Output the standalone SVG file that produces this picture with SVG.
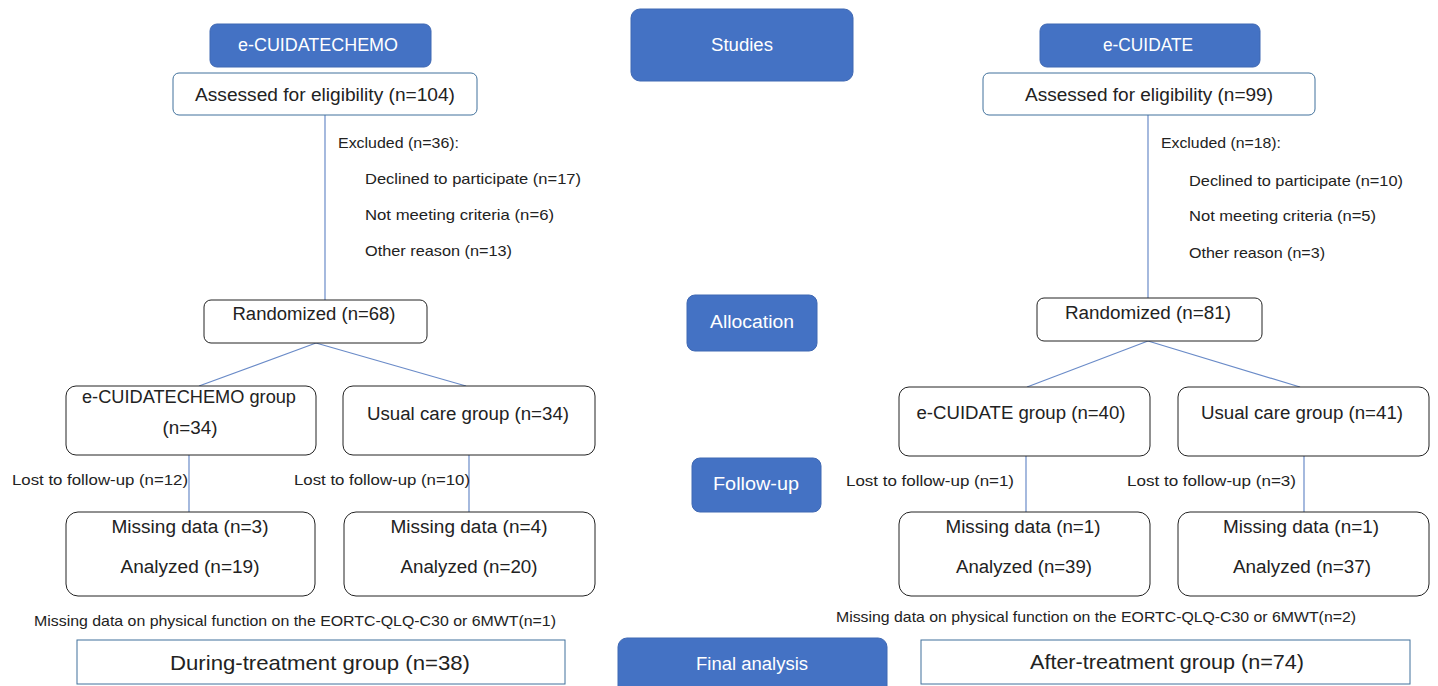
<svg xmlns="http://www.w3.org/2000/svg" width="1438" height="686" viewBox="0 0 1438 686">
<style>
.hdr{fill:#4472C4;stroke:#3F68B3;stroke-width:1}
.ht{fill:#fff;font-family:"Liberation Sans",Arial,sans-serif;font-size:18px;text-anchor:middle}
.box{fill:#fff;stroke:#222;stroke-width:1}
.bbox{fill:#fff;stroke:#41719C;stroke-width:1}
.t{fill:#222;font-family:"Liberation Sans",Arial,sans-serif;font-size:18px;text-anchor:middle}
.s{fill:#222;font-family:"Liberation Sans",Arial,sans-serif;font-size:15px}
.big{fill:#222;font-family:"Liberation Sans",Arial,sans-serif;font-size:21px;text-anchor:middle}
.ln{stroke:#6A8BC8;stroke-width:1.2;fill:none}
</style>
<rect width="1438" height="686" fill="#fff"/>
<g id="connectors">
<line class="ln" x1="325" y1="115" x2="325" y2="300"/>
<line class="ln" x1="1148" y1="115" x2="1148" y2="298"/>
<line class="ln" x1="316" y1="343" x2="199" y2="386"/>
<line class="ln" x1="316" y1="343" x2="466" y2="386"/>
<line class="ln" x1="1148" y1="341" x2="1027" y2="387"/>
<line class="ln" x1="1148" y1="341" x2="1300" y2="387"/>
<line class="ln" x1="189" y1="455" x2="189" y2="512"/>
<line class="ln" x1="469" y1="455" x2="469" y2="512"/>
<line class="ln" x1="1026" y1="456" x2="1026" y2="512"/>
<line class="ln" x1="1304" y1="456" x2="1304" y2="512"/>
</g>
<g id="studies"><rect class="hdr" x="631" y="9" width="222" height="72" rx="9"/><text class="ht" x="742" y="51" textLength="62" lengthAdjust="spacingAndGlyphs">Studies</text></g>
<g id="allocation"><rect class="hdr" x="687" y="295" width="130" height="56" rx="8"/><text class="ht" x="752" y="328" textLength="84" lengthAdjust="spacingAndGlyphs">Allocation</text></g>
<g id="followup"><rect class="hdr" x="692" y="458" width="129" height="54" rx="8"/><text class="ht" x="756" y="490" textLength="86" lengthAdjust="spacingAndGlyphs">Follow-up</text></g>
<g id="final"><rect class="hdr" x="618" y="638" width="269" height="60" rx="9"/><text class="ht" x="752" y="670" textLength="112" lengthAdjust="spacingAndGlyphs">Final analysis</text></g>
<g id="chemo-title"><rect class="hdr" x="210" y="24" width="221" height="43" rx="7"/><text class="ht" x="318" y="51" textLength="160" lengthAdjust="spacingAndGlyphs">e-CUIDATECHEMO</text></g>
<g id="cuidate-title"><rect class="hdr" x="1040" y="24" width="220" height="43" rx="7"/><text class="ht" x="1148" y="51" textLength="90" lengthAdjust="spacingAndGlyphs">e-CUIDATE</text></g>
<g id="assessed-104"><rect class="bbox" x="173" y="73" width="304" height="42" rx="6"/><text class="t" x="325" y="101" textLength="260" lengthAdjust="spacingAndGlyphs">Assessed for eligibility (n=104)</text></g>
<g id="assessed-99"><rect class="bbox" x="983" y="73" width="332" height="42" rx="6"/><text class="t" x="1149" y="101" textLength="248" lengthAdjust="spacingAndGlyphs">Assessed for eligibility (n=99)</text></g>
<g id="excluded-36">
<text class="s" x="338" y="148" textLength="121" lengthAdjust="spacingAndGlyphs">Excluded (n=36):</text>
<text class="s" x="365" y="184" textLength="216" lengthAdjust="spacingAndGlyphs">Declined to participate (n=17)</text>
<text class="s" x="365" y="220" textLength="189" lengthAdjust="spacingAndGlyphs">Not meeting criteria (n=6)</text>
<text class="s" x="365" y="256" textLength="147" lengthAdjust="spacingAndGlyphs">Other reason (n=13)</text>
</g>
<g id="excluded-18">
<text class="s" x="1161" y="148" textLength="120" lengthAdjust="spacingAndGlyphs">Excluded (n=18):</text>
<text class="s" x="1189" y="186" textLength="214" lengthAdjust="spacingAndGlyphs">Declined to participate (n=10)</text>
<text class="s" x="1189" y="221" textLength="187" lengthAdjust="spacingAndGlyphs">Not meeting criteria (n=5)</text>
<text class="s" x="1189" y="258" textLength="136" lengthAdjust="spacingAndGlyphs">Other reason (n=3)</text>
</g>
<g id="rand-68"><rect class="box" x="204" y="300" width="223" height="43" rx="7"/><text class="t" x="314" y="320" textLength="163" lengthAdjust="spacingAndGlyphs">Randomized (n=68)</text></g>
<g id="rand-81"><rect class="box" x="1037" y="298" width="225" height="43" rx="7"/><text class="t" x="1148" y="319" textLength="166" lengthAdjust="spacingAndGlyphs">Randomized (n=81)</text></g>
<g id="chemo-group"><rect class="box" x="66" y="386" width="250" height="69" rx="10"/><text class="t" x="189" y="403" textLength="214" lengthAdjust="spacingAndGlyphs">e-CUIDATECHEMO group</text><text class="t" x="190" y="434" textLength="55" lengthAdjust="spacingAndGlyphs">(n=34)</text></g>
<g id="usual-34"><rect class="box" x="343" y="386" width="252" height="69" rx="10"/><text class="t" x="468" y="420" textLength="202" lengthAdjust="spacingAndGlyphs">Usual care group (n=34)</text></g>
<g id="cuidate-group"><rect class="box" x="899" y="387" width="251" height="69" rx="10"/><text class="t" x="1021" y="419" textLength="209" lengthAdjust="spacingAndGlyphs">e-CUIDATE group (n=40)</text></g>
<g id="usual-41"><rect class="box" x="1178" y="387" width="251" height="69" rx="10"/><text class="t" x="1302" y="419" textLength="202" lengthAdjust="spacingAndGlyphs">Usual care group (n=41)</text></g>
<g id="lost-labels">
<text class="s" x="12" y="485" textLength="176" lengthAdjust="spacingAndGlyphs">Lost to follow-up  (n=12)</text>
<text class="s" x="294" y="485" textLength="176" lengthAdjust="spacingAndGlyphs">Lost to follow-up  (n=10)</text>
<text class="s" x="846" y="486" textLength="168" lengthAdjust="spacingAndGlyphs">Lost to follow-up  (n=1)</text>
<text class="s" x="1127" y="486" textLength="169" lengthAdjust="spacingAndGlyphs">Lost to follow-up  (n=3)</text>
</g>
<g id="out-chemo"><rect class="box" x="66" y="512" width="249" height="84" rx="12"/><text class="t" x="190" y="533" textLength="157" lengthAdjust="spacingAndGlyphs">Missing data (n=3)</text><text class="t" x="190" y="573" textLength="139" lengthAdjust="spacingAndGlyphs">Analyzed (n=19)</text></g>
<g id="out-usual-34"><rect class="box" x="344" y="512" width="251" height="84" rx="12"/><text class="t" x="469" y="533" textLength="157" lengthAdjust="spacingAndGlyphs">Missing data (n=4)</text><text class="t" x="469" y="573" textLength="137" lengthAdjust="spacingAndGlyphs">Analyzed (n=20)</text></g>
<g id="out-cuidate"><rect class="box" x="899" y="512" width="251" height="84" rx="12"/><text class="t" x="1023" y="533" textLength="155" lengthAdjust="spacingAndGlyphs">Missing data (n=1)</text><text class="t" x="1024" y="573" textLength="136" lengthAdjust="spacingAndGlyphs">Analyzed (n=39)</text></g>
<g id="out-usual-41"><rect class="box" x="1178" y="512" width="251" height="84" rx="12"/><text class="t" x="1301" y="533" textLength="156" lengthAdjust="spacingAndGlyphs">Missing data (n=1)</text><text class="t" x="1302" y="573" textLength="138" lengthAdjust="spacingAndGlyphs">Analyzed (n=37)</text></g>
<g id="missing-notes">
<text class="s" x="34" y="626" textLength="522" lengthAdjust="spacingAndGlyphs">Missing data on physical function on the  EORTC-QLQ-C30 or 6MWT(n=1)</text>
<text class="s" x="836" y="622" textLength="520" lengthAdjust="spacingAndGlyphs">Missing data on physical function on the  EORTC-QLQ-C30 or 6MWT(n=2)</text>
</g>
<g id="during"><rect class="bbox" x="77" y="640" width="488" height="44"/><text class="big" x="320" y="670" textLength="300" lengthAdjust="spacingAndGlyphs">During-treatment  group (n=38)</text></g>
<g id="after"><rect class="bbox" x="921" y="640" width="489" height="44"/><text class="big" x="1167" y="669" textLength="274" lengthAdjust="spacingAndGlyphs">After-treatment  group (n=74)</text></g>
</svg>
